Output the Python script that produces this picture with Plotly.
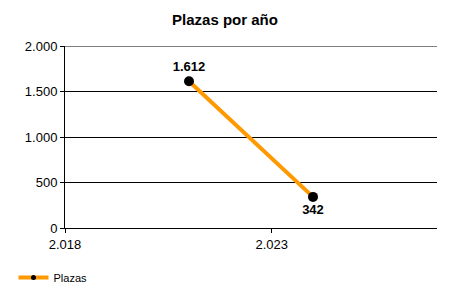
import plotly.graph_objects as go

years = [2021, 2024]
plazas = [1612, 342]
label_pos = ["top center", "bottom center"]
series_name = "Plazas"
title = "Plazas por año"
y_max = 2000

fig = go.Figure()
fig.add_trace(go.Scatter(
    x=years, y=plazas, name=series_name, showlegend=False,
    mode="lines+markers+text",
    line=dict(color="#FF9900", width=4),
    marker=dict(color="black", size=10),
    texttemplate="<b>%{y:,}</b>",
    textposition=label_pos,
    textfont=dict(family="Liberation Sans, Arial", size=13, color="black"),
    cliponaxis=False,
))
# legend entry (smaller marker, as in the reference)
fig.add_trace(go.Scatter(
    x=[None], y=[None], name=series_name, mode="lines+markers",
    line=dict(color="#FF9900", width=4),
    marker=dict(color="black", size=5),
))

# top gridline at the axis maximum
fig.add_shape(type="line", xref="paper", yref="y", x0=0, x1=1, y0=y_max, y1=y_max,
              line=dict(color="black", width=1), layer="below")

fig.update_layout(
    width=450, height=300,
    separators=",.",
    paper_bgcolor="white", plot_bgcolor="white",
    margin=dict(l=65, r=13, t=46, b=72),
    font=dict(family="Liberation Sans, Arial", size=12, color="black"),
    title=dict(text="<b>" + title + "</b>", x=0.5, xanchor="center", xref="container",
               y=0.935, yanchor="middle", yref="container", font=dict(size=15)),
    showlegend=True,
    legend=dict(orientation="h", xref="container", yref="container", x=0.03, y=0.075,
                xanchor="left", yanchor="middle", font=dict(size=11), itemwidth=30),
    xaxis=dict(range=[2018, 2027], tick0=2018, dtick=5, tickformat=",d",
               showgrid=False, zeroline=False, showline=True, linecolor="black", linewidth=1,
               ticks="outside", ticklen=4, tickcolor="black", tickfont=dict(size=13)),
    yaxis=dict(range=[0, y_max], dtick=500, tickformat=",d",
               showgrid=True, gridcolor="black", gridwidth=1, zeroline=False,
               showline=True, linecolor="black", linewidth=1,
               ticks="outside", ticklen=4, tickcolor="black", tickfont=dict(size=13)),
)

fig.write_html("out.html")
